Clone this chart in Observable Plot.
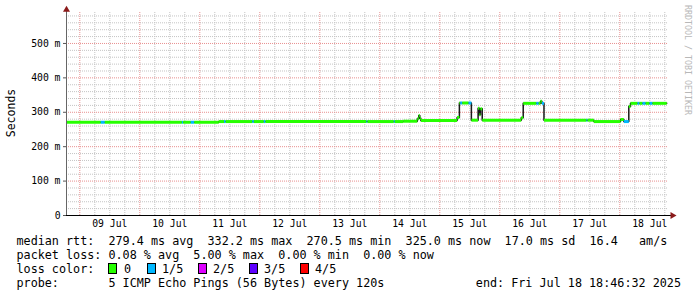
<!DOCTYPE html>
<html><head><meta charset="utf-8">
<script src="https://cdn.jsdelivr.net/npm/d3@7"></script>
<script src="https://cdn.jsdelivr.net/npm/@observablehq/plot@0.6"></script>
<style>
body{margin:0;background:#fff;}
#wrap{position:relative;width:697px;height:297px;overflow:hidden;font-family:"DejaVu Sans Mono",monospace;color:#000;background:#fff;}
#chart{position:absolute;left:0;top:0;}
.t{position:absolute;white-space:pre;font-size:11.75px;line-height:14px;}
.box{position:absolute;width:7px;height:9px;border:1px solid #000;}
.rot{position:absolute;white-space:nowrap;transform:translate(-50%,-50%) rotate(-90deg);}
</style></head><body><div id="wrap"><div id="chart"></div></div>
<script>
// ---- data ----
const startTime = "2025-07-08T18:46:32";
const endTime = "2025-07-18T18:46:32";
const times = [
 "2025-07-08T18:46:32","2025-07-09T08:24","2025-07-09T10:00","2025-07-10T16:50","2025-07-10T17:20",
 "2025-07-10T20:24","2025-07-10T21:46","2025-07-11T07:36","2025-07-11T09:40","2025-07-11T10:20",
 "2025-07-11T20:58","2025-07-11T21:38","2025-07-12T01:36","2025-07-12T02:17","2025-07-13T18:40",
 "2025-07-13T19:05","2025-07-14T05:36","2025-07-14T06:00","2025-07-14T09:22","2025-07-14T15:00",
 "2025-07-14T15:36","2025-07-14T16:00","2025-07-14T16:24","2025-07-15T06:55","2025-07-15T07:50",
 "2025-07-15T08:10","2025-07-15T09:00","2025-07-15T11:30","2025-07-15T12:38","2025-07-15T15:19",
 "2025-07-15T15:50","2025-07-15T16:15","2025-07-15T16:58","2025-07-16T08:34","2025-07-16T09:22",
 "2025-07-16T14:38","2025-07-16T15:34","2025-07-16T16:17","2025-07-16T16:50","2025-07-16T17:40",
 "2025-07-17T10:40","2025-07-17T11:05","2025-07-17T13:36","2025-07-18T00:17","2025-07-18T01:36",
 "2025-07-18T03:36","2025-07-18T04:17","2025-07-18T07:05","2025-07-18T07:53","2025-07-18T09:05",
 "2025-07-18T10:19","2025-07-18T11:53","2025-07-18T13:05"
];
const rtt = [
 271,271,271,271,271,
 271,271,273,273,273,
 273,273,273,273,273,
 273,273,273,274,281,
 291,283,276,285,327,
 327,327,327,277,312,
 293,310,277,284,326,
 326,326,332,326,277,
 277,277,273,279,273,
 317,326,326,326,326,
 326,326,326
];
const loss = [
 0,1,0,1,0,
 1,0,0,1,0,
 1,0,1,0,1,
 0,1,0,0,0,
 0,0,0,0,0,
 1,0,1,0,0,
 0,0,0,0,0,
 1,0,0,1,0,
 1,0,0,0,1,
 0,0,1,0,1,
 0,1,0
];
const lossLabels = ["0","1/5","2/5","3/5","4/5"];
const lossColors = ["#26ff00","#00b8ff","#dd00ff","#5e00ff","#ff0000"];
const dayTicks = ["2025-07-09","2025-07-10","2025-07-11","2025-07-12","2025-07-13","2025-07-14","2025-07-15","2025-07-16","2025-07-17","2025-07-18"];
const dayLabels = ["09 Jul","10 Jul","11 Jul","12 Jul","13 Jul","14 Jul","15 Jul","16 Jul","17 Jul","18 Jul"];
const yMajor = [0,100,200,300,400,500];
const yMinorStep = 20;
const yMax = 590;

// ---- build ----
const parse = s => new Date(s.length === 10 ? s + "T00:00:00" : s);
const pts = times.map((t,i)=>({t:parse(t), v:rtt[i], l:loss[i]}));
const tEnd = parse(endTime);
const segs = pts.map((p,i)=>({x1:p.t, x2: i<pts.length-1 ? pts[i+1].t : tEnd, y:p.v, c:lossColors[p.l]}));
const stepPts = [...pts, {t:tEnd, v:pts[pts.length-1].v}];
const xDomain = [new Date(parse(startTime).getTime() - 5.8*60000), new Date(parse(startTime).getTime() + 240.8*3600000 - 5.8*60000)];
const midnights = dayTicks.map(parse);
const noons = midnights.map(d => new Date(d.getTime() + 12*3600000));
const labelMap = new Map(noons.map((d,i)=>[+d, dayLabels[i]]));
const minorX = d3.timeHour.every(6).range(xDomain[0], xDomain[1]).filter(d => d.getHours() !== 0);
const minorY = d3.range(yMinorStep, yMax, yMinorStep).filter(v => v % 100 !== 0);
const majorY = yMajor.filter(v => v > 0);

const plot = Plot.plot({
  width: 697, height: 232,
  marginLeft: 66, marginRight: 29, marginTop: 12, marginBottom: 17,
  x: {type: "time", domain: xDomain, axis: null},
  y: {domain: [0, yMax], axis: null},
  color: {type: "identity"},
  style: {fontFamily: "DejaVu Sans Mono", fontSize: "9.75px", background: "transparent", color: "#000", overflow: "visible"},
  marks: [
    Plot.ruleY(minorY, {stroke: "#c4c4c4", strokeDasharray: "1,1"}),
    Plot.ruleX(minorX, {stroke: "#c4c4c4", strokeDasharray: "1,1"}),
    Plot.ruleY(majorY, {stroke: "#e89090", strokeDasharray: "1,1"}),
    Plot.ruleX(midnights, {stroke: "#e89090", strokeDasharray: "1,1"}),
    Plot.line(stepPts, {x: "t", y: "v", curve: "step-after", stroke: "#1a1a1a", strokeWidth: 1.5}),
    Plot.link(segs, {x1: "x1", x2: "x2", y1: "y", y2: "y", stroke: "c", strokeWidth: 3, strokeLinecap: "butt"}),
    Plot.ruleX([xDomain[0]], {stroke: "#666", y1: 0, y2: yMax + 4}),
    Plot.ruleY([0], {stroke: "#000", x1: xDomain[0], x2: new Date(xDomain[1].getTime() + 1.2*3600000)}),
    Plot.dot([{x: xDomain[0], y: yMax + 8}], {x: "x", y: "y", symbol: "triangle", r: 2.6, fill: "#8b1a1a", stroke: null}),
    Plot.dot([{x: new Date(xDomain[1].getTime() + 1.6*3600000), y: 0}], {x: "x", y: "y", symbol: "triangle", r: 2.6, fill: "#8b1a1a", stroke: null, rotate: 90}),
    Plot.axisY(yMajor, {tickSize: 3, tickPadding: 3, stroke: "#555", fill: "#000", tickFormat: d => d === 0 ? "0" : d + " m", fontSize: 9.75}),
    Plot.axisX(noons, {tickSize: 0, tickPadding: 5, tickFormat: d => labelMap.get(+d), fill: "#000", fontSize: 9.75})
  ]
});
const wrap = document.getElementById("wrap");
document.getElementById("chart").appendChild(plot);

function addText(txt, left, top, extra) {
  const d = document.createElement("div");
  d.className = "t"; d.textContent = txt;
  d.style.left = left + "px"; d.style.top = top + "px";
  if (extra) Object.assign(d.style, extra);
  wrap.appendChild(d); return d;
}
// rotated labels
const yl = document.createElement("div");
yl.className = "rot"; yl.textContent = "Seconds";
Object.assign(yl.style, {left: "11px", top: "113px", fontSize: "11.5px"});
wrap.appendChild(yl);
const rl = document.createElement("div");
rl.className = "rot"; rl.textContent = "RRDTOOL / TOBI OETIKER";
Object.assign(rl.style, {left: "688px", top: "60px", fontSize: "8.3px", color: "#b8b8b8", transform: "translate(-50%,-50%) rotate(90deg)"});
wrap.appendChild(rl);

// legend lines
addText("median rtt:  279.4 ms avg  332.2 ms max  270.5 ms min  325.0 ms now  17.0 ms sd  16.4   am/s", 16.5, 234);
addText("packet loss: 0.08 % avg  5.00 % max  0.00 % min  0.00 % now", 16.5, 248);
addText("loss color:", 16.5, 262);
const boxX = [108, 147, 198, 249, 300];
const labX = [124, 162, 213, 264, 315];
lossLabels.forEach((lab, i) => {
  const b = document.createElement("div");
  b.className = "box"; b.style.left = boxX[i] + "px"; b.style.top = "263px"; b.style.background = lossColors[i];
  wrap.appendChild(b);
  addText(lab, labX[i], 262);
});
addText("probe:       5 ICMP Echo Pings (56 Bytes) every 120s", 16.5, 276);
addText("end: Fri Jul 18 18:46:32 2025", 0, 276, {left: "auto", right: "16px"});
</script></body></html>
